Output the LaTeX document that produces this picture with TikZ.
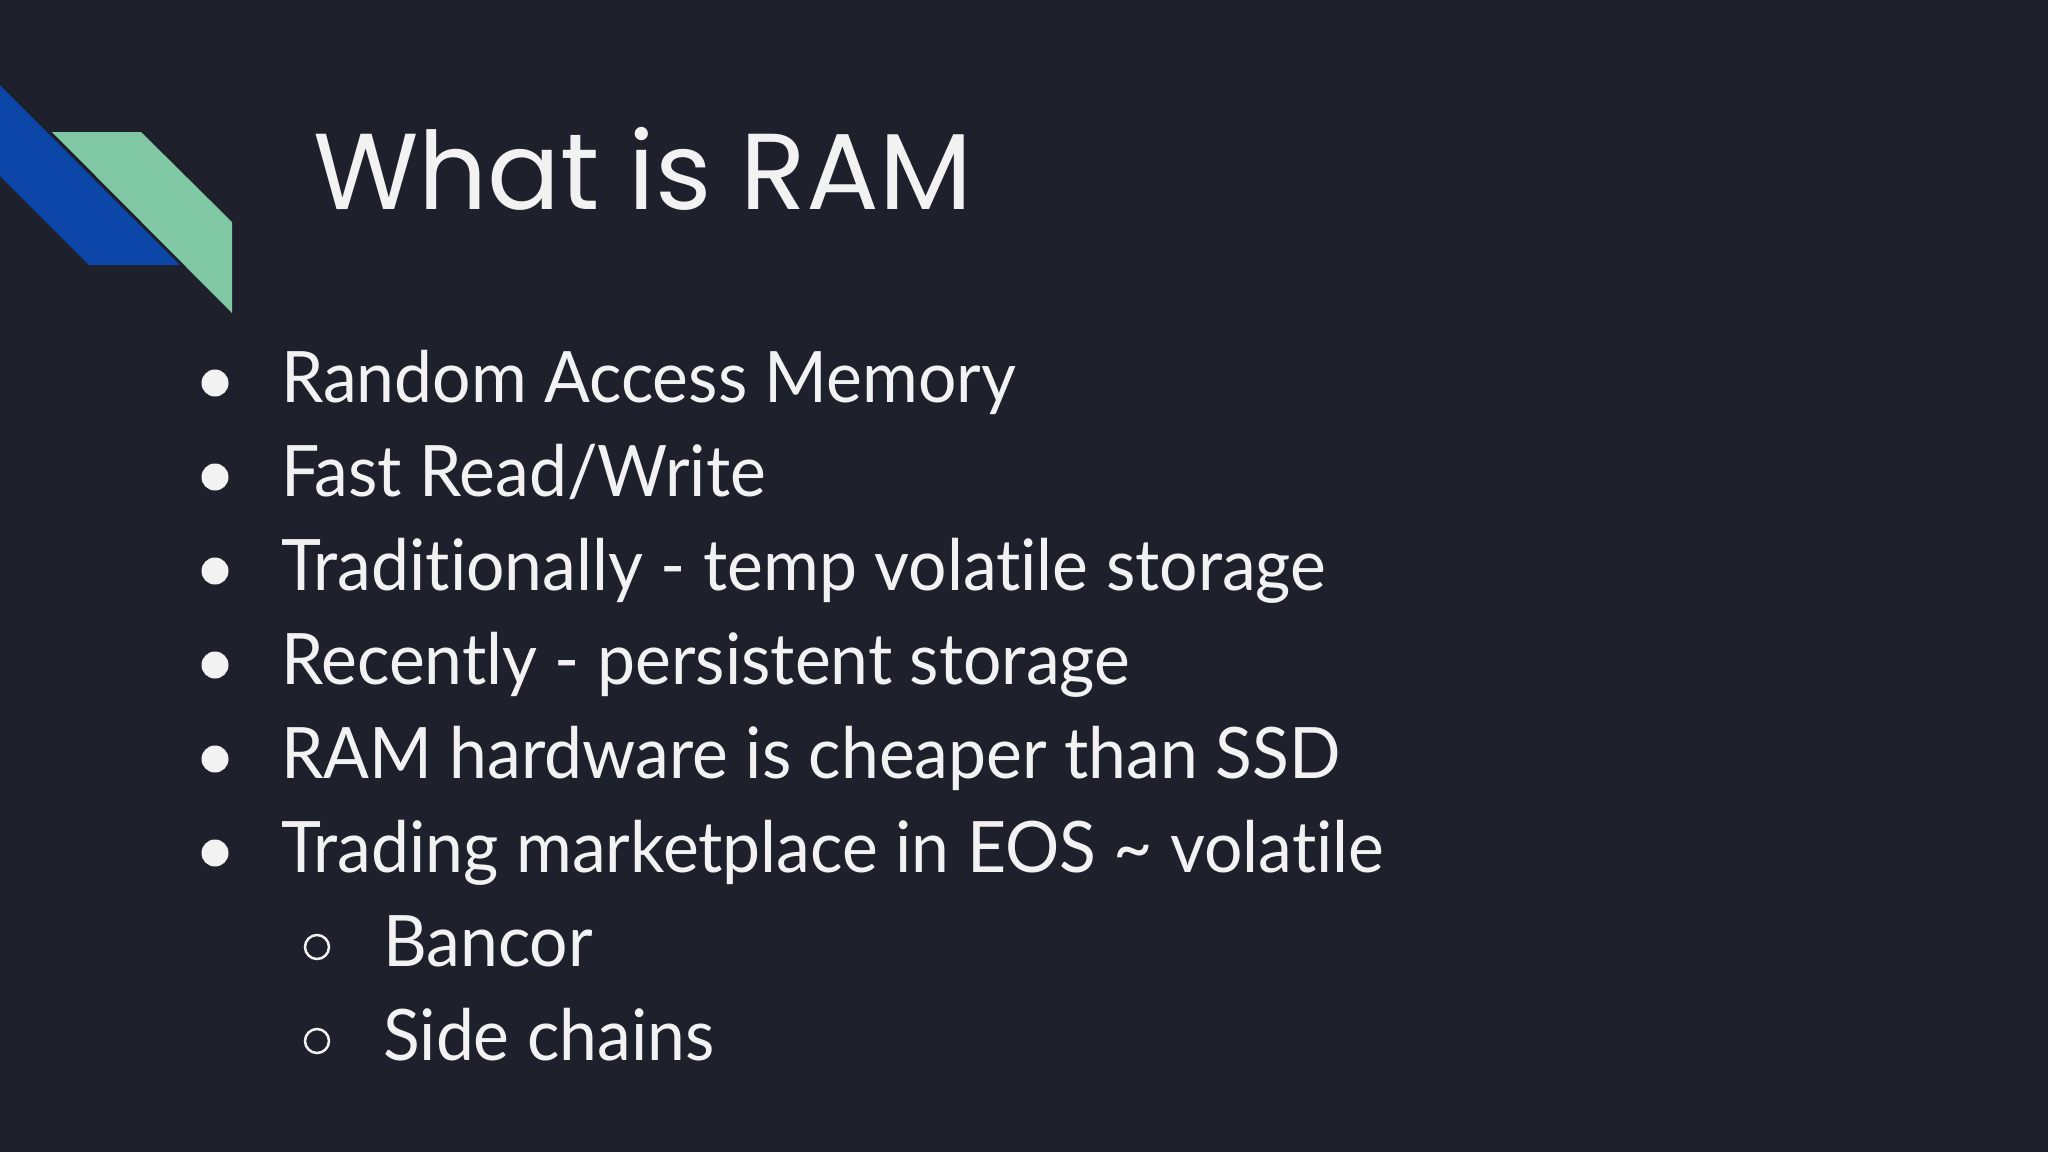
\documentclass[tikz,border=0pt]{standalone}
\usepackage{fontspec}
\setmainfont{Lato}[FakeStretch=0.955,Ligatures=NoCommon]
\newfontfamily\titlefont{Poppins}
\definecolor{bg}{HTML}{1E202C}
\definecolor{bandblue}{HTML}{0B46A8}
\definecolor{bandgreen}{HTML}{80C7A3}
\definecolor{txt}{HTML}{F2F2F2}
\begin{document}
\begin{tikzpicture}[x=1pt,y=-1pt,
  item/.style={anchor=base west,inner sep=0pt,text=txt,font=\fontsize{71}{80}\selectfont},
  dot/.style={circle,fill=txt,minimum size=27pt,inner sep=0pt},
  ring/.style={circle,draw=txt,line width=2.5pt,minimum size=24pt,inner sep=0pt}]
\fill[bg] (0,0) rectangle (2048,1152);
\useasboundingbox (0,0) rectangle (2048,1152);
\fill[bandblue] (0,85) -- (180,265) -- (89,265) -- (0,176) -- cycle;
\fill[bandgreen] (52,132) -- (141,132) -- (232,222) -- (232,313) -- cycle;
\node[anchor=base west,inner sep=0pt,text=txt,font=\titlefont\fontsize{108}{120}\selectfont] (title) at (313,209) {What is RAM};
\foreach \t/\y [count=\i] in {{Random Access Memory}/402, {Fast Read/Write}/496, {Traditionally - temp volatile storage}/590, {Recently - persistent storage}/684, {RAM hardware is cheaper than SSD}/778, {Trading marketplace in EOS \textasciitilde{} volatile}/872}{
  \node[item] (b\i) at (281,\y) {\t};
  \node[dot] (d\i) at (215,\y-19) {};
}
\node[item] (s1) at (383,966) {Bancor};
\node[ring] (r1) at (317,947) {};
\node[item] (s2) at (383,1060) {Side chains};
\node[ring] (r2) at (317,1041) {};
\end{tikzpicture}
\end{document}
